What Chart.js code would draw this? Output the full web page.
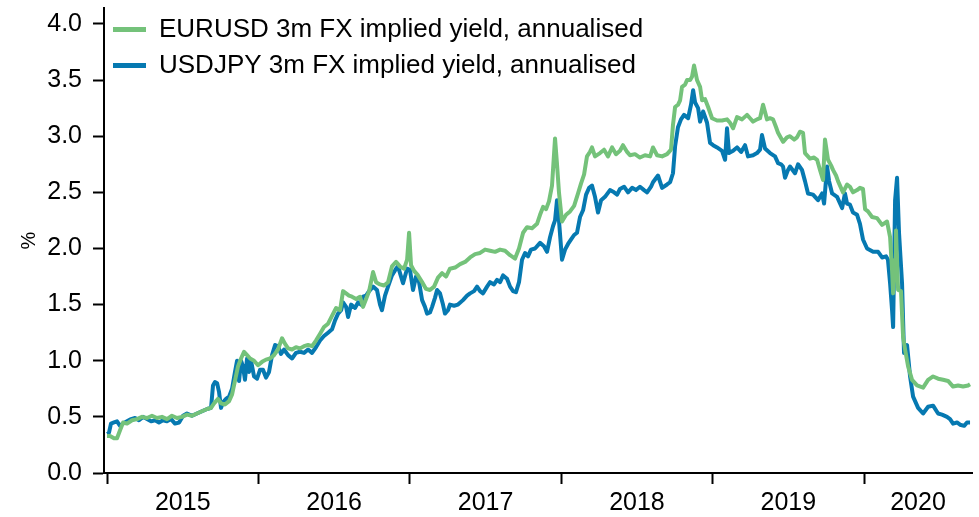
<!DOCTYPE html>
<html>
<head>
<meta charset="utf-8">
<script src="https://cdn.jsdelivr.net/npm/chart.js@4.4.1/dist/chart.umd.min.js"></script>
<style>
html,body{margin:0;padding:0;background:#fff;}
#wrap{width:979px;height:517px;}
</style>
</head>
<body>
<div id="wrap"><canvas id="c" width="979" height="517"></canvas></div>
<script>
// ---- Data (dates as decimal years, values in %) ----
const seriesNames = ['EURUSD 3m FX implied yield, annualised', 'USDJPY 3m FX implied yield, annualised'];
const yearLabels = [2015, 2016, 2017, 2018, 2019, 2020];
const yTickValues = [0, 0.5, 1, 1.5, 2, 2.5, 3, 3.5, 4];

const eurDates = [
2015.000,2015.020,2015.046,2015.066,2015.086,2015.106,2015.132,2015.165,2015.198,2015.231,2015.264,2015.297,2015.330,2015.363,2015.396,2015.429,2015.462,2015.495,2015.528,2015.561,2015.594,2015.627,2015.661,2015.687,2015.707,2015.733,2015.753,2015.779,2015.806,2015.826,2015.845,2015.865,2015.885,2015.905,2015.925,2015.945,2015.971,2015.997,
2016.024,2016.050,2016.077,2016.103,2016.129,2016.156,2016.176,2016.196,2016.222,2016.248,2016.275,2016.301,2016.328,2016.354,2016.380,2016.407,2016.433,2016.460,2016.486,2016.513,2016.539,2016.559,2016.579,2016.598,2016.618,2016.645,2016.671,2016.691,2016.711,2016.731,2016.757,2016.777,2016.803,2016.830,2016.856,2016.882,2016.909,2016.935,2016.962,2016.982,2016.995,
2017.008,2017.028,2017.054,2017.081,2017.107,2017.133,2017.160,2017.186,2017.213,2017.239,2017.265,2017.299,2017.332,2017.365,2017.398,2017.431,2017.464,2017.497,2017.530,2017.563,2017.596,2017.629,2017.662,2017.695,2017.721,2017.748,2017.774,2017.807,2017.840,2017.860,2017.880,2017.900,2017.919,2017.939,2017.959,2017.972,2017.985,
2018.005,2018.032,2018.058,2018.085,2018.111,2018.131,2018.151,2018.170,2018.190,2018.203,2018.223,2018.256,2018.283,2018.309,2018.336,2018.362,2018.388,2018.408,2018.435,2018.454,2018.487,2018.520,2018.553,2018.587,2018.606,2018.633,2018.666,2018.699,2018.725,2018.738,2018.752,2018.771,2018.785,2018.798,2018.818,2018.831,2018.851,2018.864,2018.877,2018.897,2018.917,2018.930,2018.950,2018.970,2018.996,
2019.029,2019.062,2019.095,2019.115,2019.135,2019.161,2019.194,2019.227,2019.247,2019.267,2019.293,2019.313,2019.333,2019.359,2019.379,2019.399,2019.419,2019.432,2019.465,2019.491,2019.511,2019.538,2019.557,2019.577,2019.597,2019.610,2019.643,2019.670,2019.690,2019.709,2019.729,2019.742,2019.762,2019.782,2019.795,2019.815,2019.828,2019.861,2019.888,2019.907,2019.927,2019.954,2019.973,2019.993,
2020.007,2020.026,2020.053,2020.086,2020.119,2020.152,2020.172,2020.185,2020.192,2020.205,2020.211,2020.225,2020.244,2020.258,2020.271,2020.291,2020.317,2020.350,2020.390,2020.423,2020.456,2020.489,2020.522,2020.555,2020.588,2020.621,2020.654,2020.687,2020.700
];
const eurYield = [
0.33,0.33,0.31,0.31,0.38,0.45,0.44,0.47,0.48,0.50,0.49,0.51,0.49,0.50,0.48,0.51,0.49,0.50,0.52,0.51,0.53,0.55,0.57,0.58,0.62,0.66,0.62,0.61,0.64,0.70,0.82,0.95,1.02,1.08,1.05,1.02,1.00,0.96,
0.99,1.01,1.02,1.05,1.10,1.20,1.15,1.11,1.10,1.12,1.11,1.13,1.14,1.13,1.18,1.24,1.30,1.33,1.40,1.47,1.45,1.62,1.60,1.58,1.57,1.55,1.57,1.48,1.55,1.62,1.79,1.70,1.68,1.67,1.70,1.84,1.88,1.84,1.82,1.90,2.14,
1.85,1.80,1.76,1.70,1.64,1.63,1.66,1.74,1.78,1.75,1.82,1.83,1.86,1.88,1.92,1.95,1.96,1.99,1.98,1.97,1.99,1.98,1.94,1.91,2.00,2.14,2.19,2.18,2.22,2.30,2.37,2.35,2.42,2.56,2.98,2.75,2.50,
2.24,2.30,2.33,2.38,2.49,2.58,2.66,2.82,2.86,2.90,2.82,2.85,2.88,2.82,2.90,2.84,2.87,2.92,2.86,2.83,2.84,2.81,2.83,2.82,2.90,2.83,2.82,2.84,2.88,3.10,3.26,3.28,3.32,3.44,3.46,3.50,3.50,3.53,3.63,3.50,3.44,3.32,3.33,3.26,3.16,
3.14,3.14,3.15,3.12,3.07,3.17,3.15,3.19,3.16,3.13,3.15,3.16,3.28,3.15,3.16,3.15,3.08,3.03,2.95,2.99,3.00,2.97,2.99,3.04,3.03,2.85,2.80,2.81,2.79,2.70,2.61,2.97,2.79,2.74,2.70,2.65,2.60,2.50,2.57,2.55,2.50,2.52,2.54,2.53,
2.35,2.33,2.28,2.27,2.21,2.24,2.10,1.81,1.60,1.90,2.16,1.63,1.62,1.21,1.10,0.95,0.83,0.78,0.76,0.83,0.86,0.84,0.83,0.82,0.77,0.78,0.77,0.78,0.79
];

const jpyDates = [
2015.000,2015.013,2015.026,2015.046,2015.066,2015.086,2015.106,2015.132,2015.159,2015.185,2015.211,2015.238,2015.264,2015.291,2015.317,2015.343,2015.370,2015.396,2015.423,2015.449,2015.476,2015.502,2015.528,2015.561,2015.594,2015.627,2015.661,2015.687,2015.700,2015.713,2015.727,2015.740,2015.753,2015.766,2015.786,2015.806,2015.826,2015.845,2015.859,2015.872,2015.885,2015.898,2015.911,2015.925,2015.938,2015.951,2015.971,2015.991,
2016.011,2016.030,2016.050,2016.070,2016.090,2016.110,2016.129,2016.149,2016.169,2016.196,2016.222,2016.248,2016.275,2016.301,2016.328,2016.354,2016.380,2016.407,2016.433,2016.460,2016.486,2016.506,2016.526,2016.546,2016.559,2016.579,2016.592,2016.612,2016.638,2016.658,2016.678,2016.691,2016.711,2016.731,2016.757,2016.783,2016.803,2016.816,2016.836,2016.856,2016.882,2016.909,2016.922,2016.935,2016.955,2016.982,
2017.001,2017.021,2017.041,2017.061,2017.081,2017.100,2017.114,2017.133,2017.147,2017.166,2017.180,2017.199,2017.219,2017.232,2017.252,2017.265,2017.292,2017.318,2017.351,2017.378,2017.398,2017.424,2017.444,2017.464,2017.483,2017.510,2017.530,2017.556,2017.576,2017.596,2017.616,2017.642,2017.662,2017.682,2017.701,2017.721,2017.741,2017.761,2017.781,2017.800,2017.827,2017.860,2017.886,2017.906,2017.926,2017.946,2017.959,2017.972,2017.985,
2018.005,2018.025,2018.045,2018.065,2018.085,2018.104,2018.124,2018.144,2018.164,2018.184,2018.203,2018.223,2018.243,2018.263,2018.289,2018.322,2018.349,2018.369,2018.388,2018.415,2018.441,2018.468,2018.494,2018.520,2018.547,2018.567,2018.593,2018.606,2018.639,2018.666,2018.699,2018.719,2018.738,2018.752,2018.771,2018.791,2018.811,2018.838,2018.857,2018.871,2018.884,2018.904,2018.917,2018.937,2018.963,2018.983,
2019.003,2019.029,2019.062,2019.082,2019.095,2019.108,2019.135,2019.161,2019.188,2019.214,2019.234,2019.267,2019.293,2019.313,2019.326,2019.346,2019.379,2019.412,2019.432,2019.452,2019.465,2019.478,2019.498,2019.511,2019.544,2019.564,2019.590,2019.610,2019.630,2019.663,2019.696,2019.723,2019.736,2019.756,2019.769,2019.789,2019.822,2019.855,2019.874,2019.888,2019.907,2019.927,2019.954,2019.973,2019.993,
2020.020,2020.060,2020.093,2020.119,2020.145,2020.158,2020.172,2020.185,2020.192,2020.205,2020.218,2020.231,2020.251,2020.264,2020.284,2020.304,2020.324,2020.357,2020.390,2020.423,2020.456,2020.489,2020.515,2020.548,2020.568,2020.588,2020.614,2020.634,2020.661,2020.680,2020.700
];
const jpyYield = [
0.35,0.36,0.44,0.45,0.46,0.42,0.44,0.46,0.48,0.49,0.47,0.50,0.48,0.46,0.47,0.45,0.47,0.46,0.48,0.44,0.45,0.51,0.53,0.51,0.53,0.55,0.57,0.58,0.78,0.81,0.80,0.72,0.58,0.63,0.66,0.68,0.75,0.90,1.00,0.82,1.00,0.95,0.83,1.02,0.90,1.00,0.86,0.84,
0.92,0.92,0.85,0.90,1.05,1.14,1.13,1.06,1.10,1.05,1.02,1.07,1.08,1.07,1.10,1.07,1.12,1.18,1.22,1.25,1.28,1.36,1.42,1.45,1.52,1.48,1.39,1.50,1.47,1.52,1.50,1.57,1.58,1.62,1.66,1.63,1.50,1.45,1.58,1.66,1.76,1.82,1.84,1.78,1.69,1.82,
1.81,1.63,1.75,1.70,1.54,1.48,1.42,1.43,1.48,1.56,1.63,1.60,1.50,1.42,1.45,1.50,1.49,1.50,1.54,1.58,1.60,1.62,1.66,1.62,1.60,1.66,1.70,1.68,1.72,1.70,1.76,1.73,1.66,1.62,1.61,1.70,1.90,1.96,1.93,1.99,2.00,2.05,2.02,1.97,2.10,2.20,2.25,2.43,2.25,
1.90,1.99,2.04,2.08,2.12,2.14,2.28,2.34,2.48,2.54,2.56,2.46,2.32,2.43,2.46,2.52,2.50,2.48,2.53,2.55,2.50,2.54,2.52,2.55,2.52,2.50,2.55,2.59,2.65,2.54,2.57,2.59,2.67,2.91,3.08,3.15,3.19,3.16,3.28,3.41,3.30,3.25,3.13,3.22,3.12,2.94,
2.92,2.90,2.87,2.79,3.07,2.85,2.87,2.90,2.86,2.92,2.82,2.83,2.85,2.88,3.01,2.89,2.85,2.82,2.76,2.75,2.73,2.63,2.70,2.73,2.67,2.75,2.70,2.60,2.49,2.48,2.43,2.49,2.40,2.73,2.60,2.49,2.46,2.36,2.49,2.40,2.39,2.32,2.30,2.22,2.08,
2.00,1.97,1.97,1.92,1.93,1.90,1.69,1.45,1.30,2.43,2.63,2.14,1.69,1.07,1.14,0.86,0.68,0.58,0.53,0.59,0.60,0.53,0.52,0.50,0.48,0.44,0.45,0.43,0.42,0.45,0.45
];

// ---- Styling ----
const GREEN = '#74C27A';
const BLUE = '#0679B1';
const FONT = "'Liberation Sans', Arial, Helvetica, sans-serif";
const X_MIN = 2014.980, X_MAX = 2020.713;
const Y_MIN = 0, Y_MAX = 4.142;

Chart.defaults.font.family = FONT;
Chart.defaults.color = '#000';

// x ticks: year boundaries (marks) + label positions (centred in each year span)
const xTickValues = [];
yearLabels.forEach((y, i) => {
  xTickValues.push(y);
  const end = i < yearLabels.length - 1 ? y + 1 : X_MAX;
  xTickValues.push((y + end) / 2);
});

// keep the legend inside the plot, top-left
const legendShift = {
  id: 'legendShift',
  afterLayout(chart) {
    const lg = chart.legend;
    if (lg) {
      const h = lg.height;
      lg.top = chart.chartArea.top - 1.5;
      lg.bottom = lg.top + h;
      lg.left = chart.chartArea.left - 1;
    }
  }
};

const toPts = (xs, ys) => xs.map((x, i) => ({ x: x, y: ys[i] }));

new Chart(document.getElementById('c'), {
  type: 'line',
  data: {
    datasets: [
      { label: seriesNames[0], data: toPts(eurDates, eurYield), borderColor: GREEN, backgroundColor: GREEN,
        borderWidth: 4, pointRadius: 0, tension: 0, borderJoinStyle: 'round' },
      { label: seriesNames[1], data: toPts(jpyDates, jpyYield), borderColor: BLUE, backgroundColor: BLUE,
        borderWidth: 4, pointRadius: 0, tension: 0, borderJoinStyle: 'round' }
    ]
  },
  options: {
    responsive: false,
    animation: false,
    devicePixelRatio: 1,
    layout: { padding: { left: 13, right: 7, top: 8, bottom: 0 } },
    plugins: {
      legend: {
        position: 'chartArea',
        align: 'start',
        labels: {
          usePointStyle: true,
          pointStyle: 'line',
          pointStyleWidth: 33,
          padding: 10,
          color: '#000',
          font: { size: 26 },
          generateLabels: (chart) => Chart.defaults.plugins.legend.labels.generateLabels(chart)
            .map(l => Object.assign(l, { lineWidth: 5 }))
        }
      },
      tooltip: { enabled: false }
    },
    scales: {
      x: {
        type: 'linear',
        min: X_MIN,
        max: X_MAX,
        afterBuildTicks: (s) => { s.ticks = xTickValues.map(v => ({ value: v })); },
        afterFit: (s) => { s.height = 44; s.paddingLeft = 0; s.paddingRight = 0; },
        ticks: {
          autoSkip: false,
          maxRotation: 0,
          padding: 4,
          font: { size: 25 },
          color: '#000',
          callback: (v) => Number.isInteger(v) ? '' : String(Math.floor(v))
        },
        grid: {
          drawOnChartArea: false,
          tickLength: 11,
          tickWidth: 2,
          tickColor: (c) => (c.tick && Number.isInteger(c.tick.value)) ? '#000' : 'rgba(0,0,0,0)'
        },
        border: { display: true, color: '#000', width: 2 }
      },
      y: {
        min: Y_MIN,
        max: Y_MAX,
        afterBuildTicks: (s) => { s.ticks = yTickValues.map(v => ({ value: v })); },
        afterFit: (s) => { s.width = 91; s.paddingTop = 0; s.paddingBottom = 0; },
        ticks: {
          padding: 11,
          font: { size: 25 },
          color: '#000',
          callback: (v) => Number(v).toFixed(1)
        },
        grid: { drawOnChartArea: false, tickLength: 11, tickWidth: 2, tickColor: '#000' },
        border: { display: true, color: '#000', width: 2 },
        title: { display: true, text: '%', color: '#000', font: { size: 20 }, padding: { top: 4, bottom: 4 } }
      }
    }
  },
  plugins: [legendShift]
});
</script>
</body>
</html>
